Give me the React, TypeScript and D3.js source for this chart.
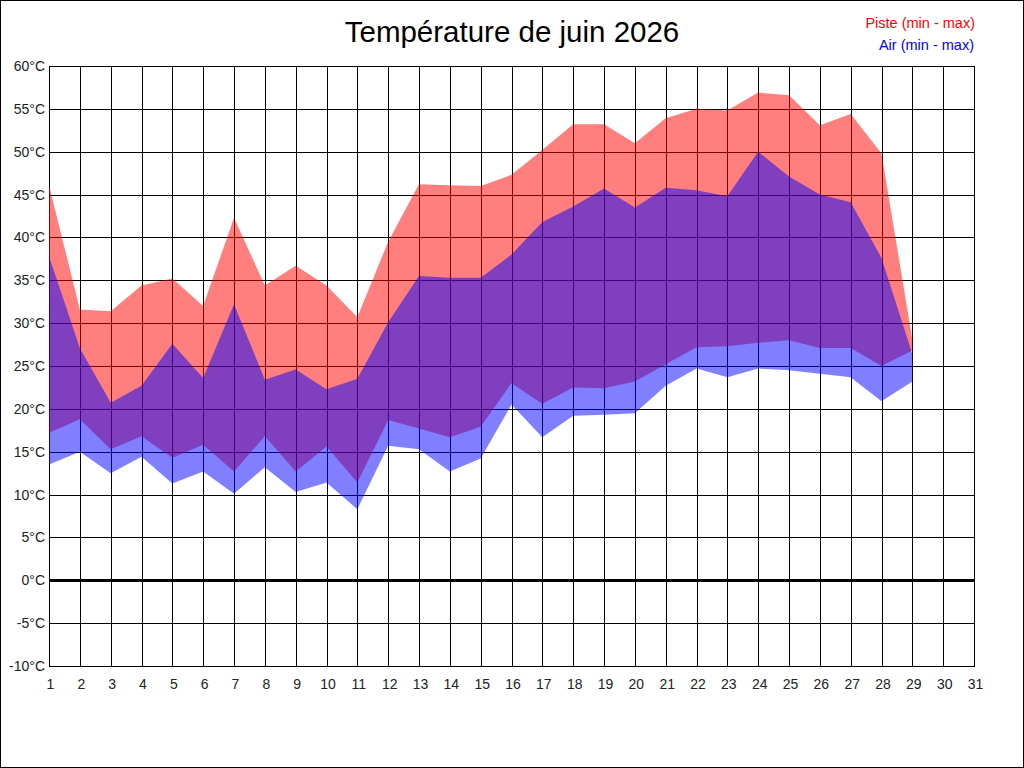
import React, { useEffect, useRef } from 'react';
import * as d3 from 'd3';

// jours du mois de juin (1..31), données relevées jusqu'au 29
const days = d3.range(1, 32);
const dataDays = d3.range(1, 30);

const pisteMax = [46.1, 31.6, 31.4, 34.4, 35.2, 32.0, 42.3, 34.4, 36.7, 34.4, 30.7, 39.5, 46.2, 46.1, 46.0,
    47.3, 50.2, 53.2, 53.2, 51.0, 53.9, 55.0, 54.8, 56.9, 56.6, 53.1, 54.4, 49.8, 28.1];
const pisteMin = [17.2, 18.8, 15.3, 16.8, 14.3, 15.8, 12.7, 16.8, 12.7, 15.6, 11.4, 18.7, 17.7, 16.7, 17.9,
    23.0, 20.6, 22.5, 22.4, 23.2, 25.2, 27.2, 27.3, 27.7, 28.0, 27.1, 27.1, 25.0, 26.8];
const airMax = [37.8, 27.1, 20.7, 22.7, 27.6, 23.6, 32.2, 23.4, 24.6, 22.3, 23.5, 30.1, 35.5, 35.3, 35.3,
    38.0, 41.8, 43.6, 45.7, 43.5, 45.8, 45.5, 44.8, 50.0, 47.1, 45.0, 44.1, 37.6, 26.4];
const airMin = [13.5, 15.0, 12.5, 14.4, 11.3, 12.7, 10.1, 13.2, 10.3, 11.4, 8.3, 15.7, 15.3, 12.7, 14.2,
    20.5, 16.7, 19.2, 19.3, 19.5, 22.7, 24.7, 23.7, 24.7, 24.5, 24.1, 23.7, 20.9, 23.2];

const yTicks = d3.range(-10, 61, 5);

const title = "Température de juin 2026";
const legendPiste = "Piste (min - max)";
const legendAir = "Air (min - max)";

interface Band {
    day: number;
    lo: number;
    hi: number;
}

export default function App() {
    const svgRef = useRef<SVGSVGElement>(null);

    useEffect(() => {
        if (!svgRef.current) return;
        const svg = d3.select(svgRef.current);
        svg.selectAll("*").remove();

        const W = 1024, H = 768;
        const font = "'Liberation Sans', Arial, sans-serif";

        const x = d3.scaleLinear().domain([1, 31]).range([49, 974]);
        const y = d3.scaleLinear().domain([-10, 60]).range([666, 66]);
        const px = (v: number) => Math.round(v) + 0.5;

        svg.append("rect")
            .attr("x", 0).attr("y", 0).attr("width", W).attr("height", H)
            .attr("fill", "white");

        // Grille (sous les aires semi-transparentes)
        const grid = svg.append("g").attr("stroke", "black").attr("stroke-width", 1);
        grid.selectAll("line.v")
            .data(days)
            .join("line")
            .attr("class", "v")
            .attr("x1", d => px(x(d))).attr("x2", d => px(x(d)))
            .attr("y1", y(60)).attr("y2", y(-10) + 1);
        grid.selectAll("line.h")
            .data(yTicks)
            .join("line")
            .attr("class", "h")
            .attr("x1", x(1)).attr("x2", x(31) + 1)
            .attr("y1", d => px(y(d))).attr("y2", d => px(y(d)));

        const piste: Band[] = dataDays.map((d, i) => ({ day: d, lo: pisteMin[i], hi: pisteMax[i] }));
        const air: Band[] = dataDays.map((d, i) => ({ day: d, lo: airMin[i], hi: airMax[i] }));

        const area = d3.area<Band>()
            .x(d => x(d.day))
            .y0(d => y(d.lo))
            .y1(d => y(d.hi));

        svg.append("path")
            .datum(piste)
            .attr("fill", "rgba(255,0,0,0.5)")
            .attr("d", area);

        svg.append("path")
            .datum(air)
            .attr("fill", "rgba(0,0,255,0.5)")
            .attr("d", area);

        // ligne 0°C épaisse
        svg.append("line")
            .attr("x1", x(1)).attr("x2", x(31) + 1)
            .attr("y1", px(y(0))).attr("y2", px(y(0)))
            .attr("stroke", "black")
            .attr("stroke-width", 3);

        // Axe Y
        svg.append("g")
            .selectAll("text")
            .data(yTicks)
            .join("text")
            .attr("x", 45)
            .attr("y", d => y(d) + 5)
            .attr("text-anchor", "end")
            .attr("font-family", font)
            .attr("font-size", 14)
            .attr("fill", "#222")
            .text(d => `${d}°C`);

        // Axe X
        svg.append("g")
            .selectAll("text")
            .data(days)
            .join("text")
            .attr("x", d => x(d) + 1.5)
            .attr("y", 689)
            .attr("text-anchor", "middle")
            .attr("font-family", font)
            .attr("font-size", 14)
            .attr("fill", "#222")
            .text(d => d);

        // Titre
        svg.append("text")
            .attr("x", 512)
            .attr("y", 42)
            .attr("text-anchor", "middle")
            .attr("font-family", font)
            .attr("font-size", 29.5)
            .attr("fill", "black")
            .text(title);

        // Légende
        svg.append("text")
            .attr("x", 975)
            .attr("y", 28)
            .attr("text-anchor", "end")
            .attr("font-family", font)
            .attr("font-size", 14.5)
            .attr("fill", "#ff0000")
            .text(legendPiste);
        svg.append("text")
            .attr("x", 974)
            .attr("y", 50)
            .attr("text-anchor", "end")
            .attr("font-family", font)
            .attr("font-size", 14.5)
            .attr("fill", "#0000ff")
            .text(legendAir);

        // Bordure de l'image
        svg.append("rect")
            .attr("x", 0.5).attr("y", 0.5).attr("width", W - 1).attr("height", H - 1)
            .attr("fill", "none")
            .attr("stroke", "black");
    }, []);

    return (
        <svg
            ref={svgRef}
            width={1024}
            height={768}
            style={{ position: 'absolute', left: 0, top: 0, display: 'block' }}
        />
    );
}
